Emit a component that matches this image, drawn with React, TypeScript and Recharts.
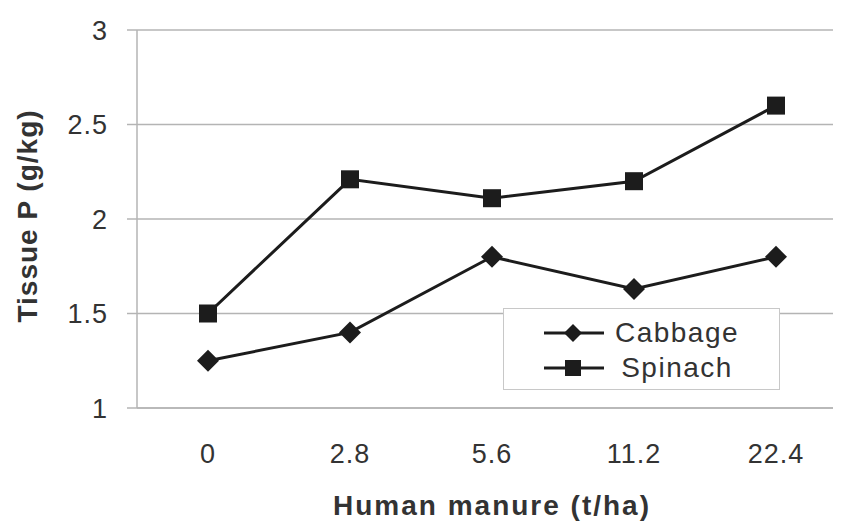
import { LineChart, Line, XAxis, YAxis, CartesianGrid, Label } from "recharts";

// Human manure rate (t/ha) on the x axis
const rates = ["0", "2.8", "5.6", "11.2", "22.4"];
// Tissue P (g/kg)
const cabbage = [1.25, 1.4, 1.8, 1.63, 1.8];
const spinach = [1.5, 2.21, 2.11, 2.2, 2.6];
const yTicks = [1, 1.5, 2, 2.5, 3];

const INK = "#1c1c1c";
const GRID = "#b4b4b4";
const FONT = "'Liberation Sans', Arial, sans-serif";

const data = rates.map((r, i) => ({ rate: r, cabbage: cabbage[i], spinach: spinach[i] }));

const Diamond = ({ cx, cy, size = 11 }: any) => {
  if (cx == null || cy == null) return <g />;
  return (
    <polygon
      points={`${cx},${cy - size} ${cx + size},${cy} ${cx},${cy + size} ${cx - size},${cy}`}
      fill={INK}
    />
  );
};

const Square = ({ cx, cy, size = 9 }: any) => {
  if (cx == null || cy == null) return <g />;
  return <rect x={cx - size} y={cy - size} width={size * 2} height={size * 2} fill={INK} />;
};

// legend sits on top of the plot, as in the source figure
function LegendBox() {
  const row = (name: string, marker: "d" | "s") => (
    <div style={{ display: "flex", alignItems: "center", height: 35 }}>
      <svg width={64} height={30} style={{ marginLeft: 38 }}>
        <line x1={2} y1={15} x2={62} y2={15} stroke={INK} strokeWidth={3} />
        {marker === "d" ? <Diamond cx={31} cy={15} size={9} /> : <Square cx={31} cy={15} size={8} />}
      </svg>
      <span style={{ width: 142, textAlign: "center", fontSize: 28, letterSpacing: 1.5, color: "#333" }}>{name}</span>
    </div>
  );
  return (
    <div
      style={{
        position: "absolute",
        left: 495,
        top: 300,
        width: 277,
        height: 82,
        background: "#fff",
        border: "1px solid #c8c8c8",
        fontFamily: FONT,
        paddingTop: 6,
        boxSizing: "border-box",
      }}
    >
      {row("Cabbage", "d")}
      {row("Spinach", "s")}
    </div>
  );
}

export default function App() {
  return (
    <div style={{ width: 833, height: 517, overflow: "hidden", position: "relative" }}>
      <LineChart
        width={839}
        height={517}
        data={data}
        margin={{ top: 22, right: 0, bottom: 17, left: 0 }}
      >
        <CartesianGrid vertical={false} stroke={GRID} strokeWidth={1.5} />
        <XAxis
          dataKey="rate"
          height={100}
          padding={{ left: 71, right: 71 }}
          axisLine={{ stroke: GRID, strokeWidth: 1.5 }}
          tickLine={false}
          tickSize={0}
          tickMargin={36}
          tick={{ fontSize: 27, fill: "#333", fontFamily: FONT, letterSpacing: 1 }}
        >
          <Label
            content={({ viewBox }: any) => (
              <text
                x={viewBox.x + viewBox.width / 2}
                y={507}
                textAnchor="middle"
                fontSize={28}
                fontWeight="bold"
                fill="#333"
                fontFamily={FONT}
                letterSpacing={2}
              >
                Human manure (t/ha)
              </text>
            )}
          />
        </XAxis>
        <YAxis
          type="number"
          domain={[1, 3]}
          ticks={yTicks}
          width={129}
          axisLine={{ stroke: GRID, strokeWidth: 1.5 }}
          tickLine={{ stroke: GRID, strokeWidth: 1.5 }}
          tickSize={10}
          tickMargin={19}
          tick={{ fontSize: 27, fill: "#333", fontFamily: FONT, letterSpacing: 1 }}
        >
          <Label
            content={() => (
              <text
                x={0}
                y={0}
                transform="translate(29,208) rotate(-90)"
                textAnchor="middle"
                fontSize={28}
                fontWeight="bold"
                fill="#333"
                fontFamily={FONT}
                letterSpacing={1}
              >
                Tissue P (g/kg)
              </text>
            )}
          />
        </YAxis>
        <Line
          dataKey="cabbage"
          name="Cabbage"
          type="linear"
          stroke={INK}
          strokeWidth={3}
          dot={(p: any) => <Diamond key={`c${p.index}`} cx={p.cx} cy={p.cy} />}
          activeDot={false}
          isAnimationActive={false}
        />
        <Line
          dataKey="spinach"
          name="Spinach"
          type="linear"
          stroke={INK}
          strokeWidth={3}
          dot={(p: any) => <Square key={`s${p.index}`} cx={p.cx} cy={p.cy} />}
          activeDot={false}
          isAnimationActive={false}
        />
      </LineChart>
      <LegendBox />
    </div>
  );
}
